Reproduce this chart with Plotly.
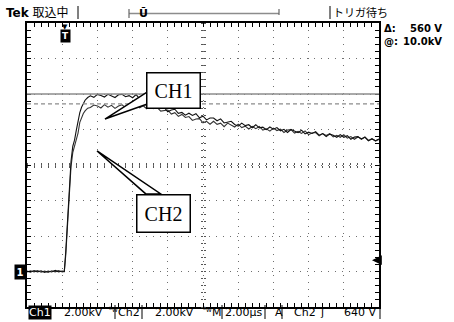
import numpy as np
import plotly.graph_objects as go

TIME_PER_DIV_US = 2.0
VOLTS_PER_DIV_KV = 2.0
TRIGGER_US = 2.16
CURSOR_KV = 10.0
CURSOR_DELTA_KV = 0.56
TRIG_LEVEL_KV = 0.64

BASE_T = [0.0, 0.2, 0.4, 0.6, 0.8, 1.0, 1.2, 1.4, 1.6, 1.8, 2.0, 2.12]
RISE_T = [2.2, 2.3, 2.4, 2.5, 2.6, 2.7, 2.8, 2.9, 3.0, 3.1, 3.2, 3.3, 3.45]
TAIL_T0 = 3.6
TAIL_DT = 0.2

CH1_BASE = [0.02, -0.04, 0.05, -0.02, 0.04, -0.05, 0.03, -0.03, 0.06, -0.02, 0.03, 0.0]
CH1_RISE = [1.1, 2.8, 4.5, 6.2, 7.05, 7.4, 7.95, 8.5, 8.95, 9.25, 9.5, 9.65, 9.8]
CH1_TAIL = [9.90, 9.81, 9.98, 9.92, 9.83, 9.98, 9.87, 9.80, 9.96, 9.98, 9.85, 9.91, 9.79, 9.97,
            9.73, 9.64, 9.32, 9.38, 9.40, 9.19, 9.19, 9.23, 9.00, 9.10, 9.14, 8.91, 8.96, 8.81,
            8.92, 8.79, 8.89, 8.66, 8.75, 8.54, 8.65, 8.65, 8.49, 8.60, 8.37, 8.43, 8.46, 8.28,
            8.19, 8.36, 8.22, 8.27, 8.10, 8.27, 8.09, 8.13, 7.99, 8.14, 8.02, 8.11, 7.93, 8.01,
            7.83, 8.00, 7.91, 7.82, 7.96, 7.75, 7.85, 7.78, 7.88, 7.68, 7.77, 7.60, 7.74, 7.68,
            7.56, 7.71, 7.56, 7.65, 7.45, 7.57, 7.60, 7.45, 7.58, 7.38, 7.47, 7.37, 7.47]

CH2_BASE = [-0.03, 0.04, -0.02, 0.05, -0.04, 0.02, -0.05, 0.04, -0.02, 0.05, -0.03, 0.0]
CH2_RISE = [0.9, 2.6, 4.3, 5.9, 6.7, 7.1, 7.35, 7.8, 8.4, 8.7, 8.9, 9.05, 9.2]
CH2_TAIL = [9.24, 9.38, 9.33, 9.21, 9.40, 9.26, 9.36, 9.19, 9.32, 9.39, 9.23, 9.35, 9.28, 9.41,
            9.22, 9.34, 9.17, 9.32, 9.17, 9.24, 9.04, 9.06, 9.10, 8.87, 8.95, 8.74, 8.85, 8.68,
            8.73, 8.51, 8.59, 8.61, 8.38, 8.46, 8.30, 8.46, 8.29, 8.36, 8.16, 8.36, 8.24, 8.14,
            8.30, 8.11, 8.19, 8.03, 8.17, 8.05, 8.17, 7.97, 8.04, 7.91, 8.08, 7.94, 8.02, 7.83,
            7.97, 7.99, 7.80, 7.89, 7.78, 7.92, 7.71, 7.80, 7.83, 7.64, 7.77, 7.66, 7.77, 7.58,
            7.67, 7.56, 7.71, 7.51, 7.60, 7.45, 7.58, 7.48, 7.56, 7.36, 7.49, 7.35, 7.44]

# ---------------- assemble ----------------
tail_t = list(np.round(TAIL_T0 + TAIL_DT * np.arange(len(CH1_TAIL)), 3))
t_all = BASE_T + RISE_T + tail_t
ch1 = CH1_BASE + CH1_RISE + CH1_TAIL
ch2 = CH2_BASE + CH2_RISE + CH2_TAIL

X_RANGE = [0, 10 * TIME_PER_DIV_US]
Y_RANGE = [-1 * VOLTS_PER_DIV_KV, 7 * VOLTS_PER_DIV_KV]

W, H = 454, 322
ML, MT = 27, 23
PW, PH = 352, 284
MR = W - ML - PW
MB = H - MT - PH


def px(x):
    return (x - ML) / PW


def py(y):
    return (MT + PH - y) / PH


fig = go.Figure()
fig.add_trace(go.Scatter(x=t_all, y=ch2, mode="lines", line=dict(color="#333333", width=1.1),
                         hoverinfo="skip", showlegend=False))
fig.add_trace(go.Scatter(x=t_all, y=ch1, mode="lines", line=dict(color="#111111", width=1.1),
                         hoverinfo="skip", showlegend=False))
# helper traces so the centre graticule axes are drawn
fig.add_trace(go.Scatter(x=t_all, y=ch1, xaxis="x2", yaxis="y2", mode="lines", opacity=0,
                         hoverinfo="skip", showlegend=False))
fig.add_trace(go.Scatter(x=t_all, y=ch1, xaxis="x3", yaxis="y3", mode="lines", opacity=0,
                         hoverinfo="skip", showlegend=False))

minor_x = dict(dtick=0.2 * TIME_PER_DIV_US, ticklen=4, ticks="inside", tickcolor="#000",
               showgrid=False)
minor_y = dict(dtick=0.2 * VOLTS_PER_DIV_KV, ticklen=4, ticks="inside", tickcolor="#000",
               showgrid=False)


def centre_axis(rng, dt, side, overl):
    return dict(range=rng, overlaying=overl, anchor="free", position=0.5, side=side,
                dtick=dt, tick0=0, ticks="outside", ticklen=2, tickcolor="#555",
                showticklabels=False, showgrid=False, zeroline=False, showline=False)


fig.update_layout(
    width=W, height=H, margin=dict(l=ML, r=MR, t=MT, b=MB, pad=0),
    paper_bgcolor="white", plot_bgcolor="white",
    font=dict(family="DejaVu Sans", size=11, color="#000"),
    xaxis=dict(range=X_RANGE, dtick=TIME_PER_DIV_US, tick0=0, showticklabels=False,
               ticks="inside", ticklen=4, tickcolor="#000", minor=minor_x,
               showline=True, linecolor="#000", linewidth=2, mirror="allticks",
               showgrid=True, gridcolor="#6f6f6f", gridwidth=1, griddash="1px,6px",
               zeroline=False, fixedrange=True),
    yaxis=dict(range=Y_RANGE, dtick=VOLTS_PER_DIV_KV, tick0=0, showticklabels=False,
               ticks="inside", ticklen=4, tickcolor="#000", minor=minor_y,
               showline=True, linecolor="#000", linewidth=2, mirror="allticks",
               showgrid=True, gridcolor="#6f6f6f", gridwidth=1, griddash="1px,6px",
               zeroline=False, fixedrange=True),
    xaxis2=centre_axis(X_RANGE, 0.2 * TIME_PER_DIV_US, "bottom", "x"),
    xaxis3=centre_axis(X_RANGE, 0.2 * TIME_PER_DIV_US, "top", "x"),
    yaxis2=centre_axis(Y_RANGE, 0.2 * VOLTS_PER_DIV_KV, "left", "y"),
    yaxis3=centre_axis(Y_RANGE, 0.2 * VOLTS_PER_DIV_KV, "right", "y"),
)

shapes = []
# cursors
shapes.append(dict(type="line", xref="paper", x0=0, x1=1, yref="y", y0=CURSOR_KV, y1=CURSOR_KV,
                   line=dict(color="#8c8c8c", width=1.5)))
shapes.append(dict(type="line", xref="paper", x0=0, x1=1, yref="y",
                   y0=CURSOR_KV - CURSOR_DELTA_KV, y1=CURSOR_KV - CURSOR_DELTA_KV,
                   line=dict(color="#8c8c8c", width=1.2, dash="4px,3px")))
# callout wedges (data coords)
shapes.append(dict(type="path", xref="x", yref="y",
                   path="M 4.43,8.59 L 6.82,10.11 L 7.0,9.49 Z",
                   fillcolor="white", line=dict(color="#000", width=1.5)))
shapes.append(dict(type="path", xref="x", yref="y",
                   path="M 3.98,6.79 L 6.75,4.37 L 7.6,4.37 Z",
                   fillcolor="white", line=dict(color="#000", width=1.5)))


def vbar(x, y0, y1, color="#000", width=1):
    shapes.append(dict(type="line", xref="paper", yref="paper", x0=px(x), x1=px(x),
                       y0=py(y0), y1=py(y1), line=dict(color=color, width=width)))


# top status bar decorations
vbar(78, 6, 19)
shapes.append(dict(type="line", xref="paper", yref="paper", x0=px(129), x1=px(279),
                   y0=py(13.5), y1=py(13.5), line=dict(color="#8c8c8c", width=1.5)))
vbar(129, 9, 18, "#666", 1.2)
vbar(279, 9, 15, "#666", 1.2)
vbar(330, 6, 19)
# bottom status separators
for xb in [115, 142, 222, 265, 282, 380]:
    vbar(xb, 305, 319)
fig.update_layout(shapes=shapes)

ann = []


def text(x, y, s, xanchor="left", **kw):
    d = dict(x=px(x), y=py(y), xref="paper", yref="paper", xanchor=xanchor, yanchor="middle",
             text=s, showarrow=False)
    d.update(kw)
    ann.append(d)


# callout boxes
text(173, 90, "CH1", xanchor="center", font=dict(family="Liberation Serif", size=20),
     bgcolor="white", bordercolor="#000", borderwidth=1.5, width=50, height=32)
text(163, 213, "CH2", xanchor="center", font=dict(family="Liberation Serif", size=20),
     bgcolor="white", bordercolor="#000", borderwidth=1.5, width=50, height=34)

# top status texts
text(4, 12.5, "<b>Tek</b> 取込中", font=dict(family="DejaVu Sans, Noto Sans CJK JP", size=12))
text(143, 13, "<b>Ū</b>", xanchor="center", font=dict(size=11))
text(331, 12.5, "トリガ待ち", font=dict(family="Noto Sans CJK JP", size=11))
# right readouts
text(382, 29, "<b>Δ:</b>", font=dict(size=10))
text(444, 29, "<b>%d V</b>" % round(CURSOR_DELTA_KV * 1000), xanchor="right", font=dict(size=10))
text(382, 41, "<b>@:</b>", font=dict(size=10))
text(444, 41, "<b>%.1fkV</b>" % CURSOR_KV, xanchor="right", font=dict(size=10))

# trigger marker at top
ann.append(dict(x=TRIGGER_US, xref="x", y=py(27), yref="paper", yanchor="middle", text="▼",
                showarrow=False, font=dict(size=7)))
ann.append(dict(x=TRIGGER_US, xref="x", y=py(36), yref="paper", yanchor="middle",
                text="<b>T</b>", showarrow=False, font=dict(size=9, color="white"),
                bgcolor="#000", borderpad=1))
# ground marker ch1
ann.append(dict(x=px(26), xref="paper", y=0, yref="y", xanchor="right", yanchor="middle",
                text="<b>1</b>", showarrow=False, font=dict(size=10, color="white"),
                bgcolor="#000", borderpad=1.5))
# trigger level arrow
ann.append(dict(x=px(372), xref="paper", y=TRIG_LEVEL_KV, yref="y", text="", showarrow=True,
                ax=7, ay=0, arrowhead=2, arrowsize=1.4, arrowwidth=1.4, arrowcolor="#000"))

# bottom status line
YB = 312
text(28, YB, "Ch1", font=dict(size=11, color="white"), bgcolor="#000", borderpad=0)
text(62, YB, "2.00kV", font=dict(size=11))
text(107, YB - 2, "ᴮw", font=dict(size=7))
text(116, YB, "Ch2", font=dict(size=11))
text(153, YB, "2.00kV", font=dict(size=11))
text(201, YB - 2, "ᴮw", font=dict(size=7))
text(210, YB, "M", font=dict(size=11))
text(223, YB, "2.00µs", font=dict(size=11))
text(273, YB, "A", font=dict(size=11))
text(292, YB, "Ch2", font=dict(size=11))
text(318, YB, "ʃ", font=dict(size=11))
text(378, YB, "%d V" % round(TRIG_LEVEL_KV * 1000), xanchor="right", font=dict(size=11))
fig.update_layout(annotations=ann)

# remove the default 8px page margin so the figure sits at the window's top-left corner
fig.write_html("out.html", config={"displayModeBar": False},
               post_script="document.body.style.margin='0';")
